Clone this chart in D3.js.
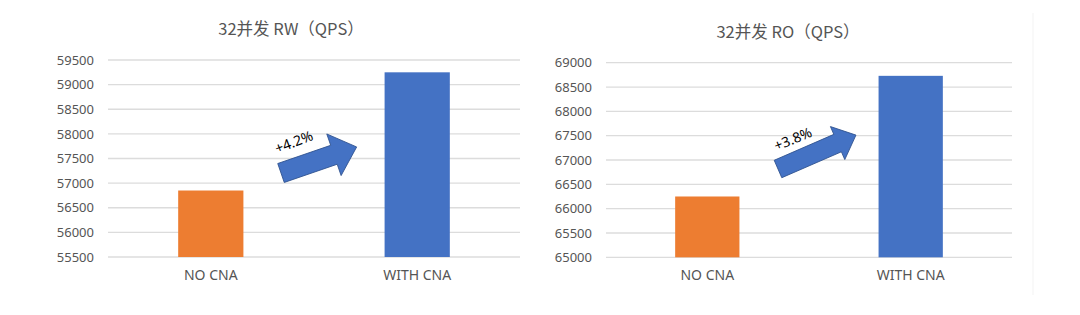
<!DOCTYPE html>
<html>
<head>
<meta charset="utf-8">
<script src="https://cdn.jsdelivr.net/npm/d3@7"></script>
<style>
  body { margin: 0; background: #fff; }
  svg { display: block; }
</style>
</head>
<body>
<script>
// categories and values
var categories = ["NO CNA", "WITH CNA"];
var rwValues = [56850, 59250];
var roValues = [66250, 68730];
var rwTicks = [55500, 56000, 56500, 57000, 57500, 58000, 58500, 59000, 59500];
var roTicks = [65000, 65500, 66000, 66500, 67000, 67500, 68000, 68500, 69000];
var titles = ["32并发 RW（QPS）", "32并发 RO（QPS）"];
var gains = ["+4.2%", "+3.8%"];

var barColors = ["#ED7D31", "#4472C4"];

var w = 1080,
    h = 315;

var svg = d3.select("body")
            .append("svg")
            .attr("width", w)
            .attr("height", h);

// layout of each panel
var panels = [
  { values: rwValues, ticks: rwTicks, title: titles[0], gain: gains[0],
    x0: 108, x1: 520, yTop: 60, yBot: 257, labelX: 94, titleX: 291, titleY: 29,
    arrow: { x: 281, y: 173, len: 80, angle: -19, shaft: 20, head: 44, headLen: 24 },
    text: { x: 294, y: 142, angle: -21 } },
  { values: roValues, ticks: roTicks, title: titles[1], gain: gains[1],
    x0: 606, x1: 1012, yTop: 62.7, yBot: 257.3, labelX: 592, titleX: 788, titleY: 32,
    arrow: { x: 778, y: 169, len: 85, angle: -23.5, shaft: 19, head: 36, headLen: 20 },
    text: { x: 793, y: 139, angle: -22 } }
];

// faint frame edge on the right chart
svg.append("line")
   .attr("x1", 1033).attr("x2", 1033)
   .attr("y1", 13).attr("y2", 295)
   .attr("stroke", "#f9f9f9")
   .attr("stroke-width", 2);

panels.forEach(function(p) {
  var g = svg.append("g");

  var xScale = d3.scaleBand()
                 .domain(categories)
                 .range([p.x0, p.x1])
                 .paddingInner(0.684)
                 .paddingOuter(0.34);

  var yScale = d3.scaleLinear()
                 .domain([p.ticks[0], p.ticks[p.ticks.length - 1]])
                 .range([p.yBot, p.yTop]);

  // gridlines
  g.selectAll(".grid")
   .data(p.ticks)
   .enter()
   .append("line")
   .attr("x1", p.x0)
   .attr("x2", p.x1)
   .attr("y1", function(d) { return yScale(d); })
   .attr("y2", function(d) { return yScale(d); })
   .attr("stroke", "#dcdcdc")
   .attr("stroke-width", 1.3);

  // y axis labels
  var yAxis = d3.axisLeft(yScale)
                .tickValues(p.ticks)
                .tickSize(0)
                .tickPadding(0)
                .tickFormat(d3.format("d"));

  var ya = g.append("g")
            .attr("transform", "translate(" + p.labelX + ",0)")
            .call(yAxis);
  ya.select(".domain").remove();
  ya.selectAll("text")
    .attr("font-family", "'Noto Sans', sans-serif")
    .attr("font-size", "13px")
    .attr("fill", "#555");

  // bars
  g.selectAll(".bar")
   .data(p.values)
   .enter()
   .append("rect")
   .attr("x", function(d, i) { return xScale(categories[i]); })
   .attr("y", function(d) { return yScale(d); })
   .attr("width", xScale.bandwidth())
   .attr("height", function(d) { return p.yBot - yScale(d); })
   .attr("fill", function(d, i) { return barColors[i]; });

  // x axis labels
  var xAxis = d3.axisBottom(xScale)
                .tickSize(0)
                .tickPadding(0);
  var xa = g.append("g")
            .attr("transform", "translate(0," + (p.yBot + 13) + ")")
            .call(xAxis);
  xa.select(".domain").remove();
  xa.selectAll("text")
    .attr("font-family", "'Noto Sans', sans-serif")
    .attr("font-size", "14px")
    .attr("fill", "#555");

  // title
  g.append("text")
   .attr("x", p.titleX)
   .attr("y", p.titleY)
   .attr("dy", "0.35em")
   .attr("text-anchor", "middle")
   .attr("font-family", "'Noto Sans CJK SC', 'Noto Sans', sans-serif")
   .attr("font-size", "16.5px")
   .attr("fill", "#555")
   .text(p.title);

  // arrow
  var a = p.arrow;
  var sb = a.len - a.headLen;
  var pts = [
    [0, -a.shaft / 2], [sb, -a.shaft / 2], [sb, -a.head / 2], [a.len, 0],
    [sb, a.head / 2], [sb, a.shaft / 2], [0, a.shaft / 2]
  ];
  g.append("polygon")
   .attr("points", pts.map(function(q) { return q.join(","); }).join(" "))
   .attr("transform", "translate(" + a.x + "," + a.y + ") rotate(" + a.angle + ")")
   .attr("fill", "#4472C4")
   .attr("stroke", "#2F528F")
   .attr("stroke-width", 0.8);

  // gain label
  g.append("text")
   .attr("transform", "translate(" + p.text.x + "," + p.text.y + ") rotate(" + p.text.angle + ")")
   .attr("text-anchor", "middle")
   .attr("dy", "0.35em")
   .attr("font-family", "'Noto Sans', sans-serif")
   .attr("font-size", "14px")
   .attr("fill", "#000")
   .text(p.gain);
});
</script>
</body>
</html>
